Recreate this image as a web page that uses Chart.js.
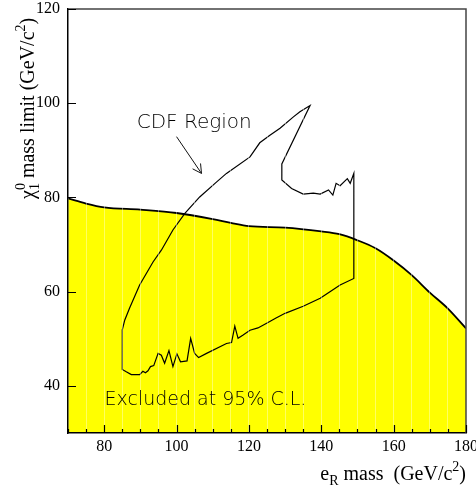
<!DOCTYPE html>
<html lang="en">
<head>
    <meta charset="UTF-8">
    <title>Excluded region - neutralino mass limit vs selectron mass</title>
    <script src="https://cdn.jsdelivr.net/npm/chart.js@4.4.0/dist/chart.umd.min.js"></script>
    <style>
        * { box-sizing: border-box; margin: 0; padding: 0; }
        body { background: #fff; width: 476px; height: 488px; overflow: hidden; }
        .chart-container { position: relative; width: 476px; height: 488px; }
    </style>
</head>
<body>
    <div class="chart-container">
        <canvas id="limit-chart" width="476" height="488"></canvas>
    </div>

    <script>
        // Excluded region boundary (yellow area)
        const excludedMass  = [70, 75, 80, 90, 100, 110, 115, 120, 130, 140, 145, 150, 155, 160, 165, 170, 175, 180];
        const excludedLimit = [79.8, 78.7, 77.9, 77.4, 76.7, 75.4, 74.6, 73.9, 73.6, 72.8, 72.2, 70.9, 69.2, 66.6, 63.5, 59.8, 56.4, 52.2];

        // CDF region contour (closed loop)
        const cdfMass = [85.0, 85.0, 86.1, 87.5, 89.8, 90.7, 91.4, 92.1, 92.8, 93.7, 94.9, 95.8, 96.7, 97.9, 99.0,
            100.1, 101.1, 102.9, 103.9, 105.0, 106.1, 108.3, 113.8, 115.2, 116.1, 117.0, 118.4, 120.3, 122.5,
            124.9, 127.5, 130.0, 135.0, 139.7, 142.4, 145.2, 149.0, 149.0, 148.0, 147.2, 145.2, 144.1, 143.2,
            142.0, 139.7, 137.8, 135.0, 131.8, 129.1, 129.1, 136.9, 134.1, 132.3, 128.6, 125.8, 123.0, 120.3,
            113.8, 111.1, 106.4, 102.3, 99.0, 95.8, 93.5, 89.8, 87.0, 85.7, 85.0];
        const cdfLimit = [51.9, 43.5, 43.0, 42.4, 42.4, 43.1, 42.8, 43.2, 44.1, 44.3, 46.9, 46.5, 44.8, 47.5, 44.1,
            46.8, 45.1, 45.3, 50.1, 46.9, 46.0, 46.9, 49.0, 49.2, 52.7, 50.1, 50.8, 51.8, 52.3,
            53.3, 54.4, 55.4, 56.9, 58.6, 60.0, 61.4, 62.8, 85.1, 83.0, 84.0, 82.5, 83.0, 80.5,
            81.6, 80.7, 80.9, 80.7, 81.9, 83.7, 87.1, 99.5, 98.2, 97.1, 94.7, 93.2, 91.6, 88.6,
            85.1, 83.3, 80.1, 76.6, 73.1, 68.8, 66.3, 61.4, 56.5, 54.0, 51.9];

        // Axis ticks
        const xTickValues  = [70, 75, 80, 85, 90, 95, 100, 105, 110, 115, 120, 125, 130, 135, 140, 145, 150, 155, 160, 165, 170, 175, 180];
        const xLabelValues = [80, 100, 120, 140, 160, 180];
        const yTickValues  = [40, 60, 80, 100, 120];

        // Annotations (data coordinates)
        const cdfLabel = { text: 'CDF Region', x: 89.0, y: 94.7 };
        const cdfArrow = { from: [100.0, 92.9], to: [106.9, 85.1] };
        const excludedLabel = { text: 'Excluded at 95% C.L.', x: 80.1, y: 35.9 };

        const serif = '"Liberation Serif", "Times New Roman", serif';
        const sans = '"DejaVu Sans", sans-serif';

        // Draw text made of pieces with different sizes / offsets (sub- and superscripts)
        function richWidth(ctx, parts) {
            let w = 0;
            parts.forEach(p => {
                ctx.font = `${p.size}px ${serif}`;
                if (!p.stack) w += ctx.measureText(p.text).width;
            });
            return w;
        }

        function drawRich(ctx, parts, x, y) {
            let cx = x;
            parts.forEach(p => {
                ctx.font = `${p.size}px ${serif}`;
                ctx.fillText(p.text, cx, y + (p.dy || 0));
                if (!p.stack) cx += ctx.measureText(p.text).width;
            });
        }

        const yTitle = [
            { text: 'χ', size: 20 },
            { text: '1', size: 14, dy: 5, stack: true },
            { text: '0', size: 14, dy: -9 },
            { text: ' mass limit (GeV/c', size: 20 },
            { text: '2', size: 14, dy: -9 },
            { text: ')', size: 20 }
        ];
        const xTitle = [
            { text: 'e', size: 20 },
            { text: 'R', size: 14, dy: 5 },
            { text: ' mass  (GeV/c', size: 20 },
            { text: '2', size: 14, dy: -9 },
            { text: ')', size: 20 }
        ];

        const decorPlugin = {
            id: 'decor',
            afterDraw(chart) {
                const { ctx, chartArea: a, scales: { x, y } } = chart;
                ctx.save();

                // top / right frame
                ctx.strokeStyle = '#444';
                ctx.lineWidth = 1.5;
                ctx.beginPath();
                ctx.moveTo(a.left, a.top);
                ctx.lineTo(a.right, a.top);
                ctx.lineTo(a.right, a.bottom);
                ctx.stroke();

                // inward tick marks
                ctx.strokeStyle = '#000';
                ctx.lineWidth = 1.2;
                ctx.beginPath();
                xTickValues.forEach(v => {
                    const px = Math.round(x.getPixelForValue(v)) + 0.5;
                    const len = xLabelValues.includes(v) ? 8 : 4;
                    ctx.moveTo(px, a.bottom);
                    ctx.lineTo(px, a.bottom - len);
                });
                yTickValues.forEach(v => {
                    const py = Math.round(y.getPixelForValue(v)) + 0.5;
                    ctx.moveTo(a.left, py);
                    ctx.lineTo(a.left + 8, py);
                });
                ctx.stroke();

                // axis titles
                ctx.fillStyle = '#000';
                ctx.textBaseline = 'alphabetic';
                ctx.textAlign = 'left';
                ctx.save();
                ctx.translate(34, a.top + 190);
                ctx.rotate(-Math.PI / 2);
                drawRich(ctx, yTitle, 0, 0);
                ctx.restore();
                const xw = richWidth(ctx, xTitle);
                drawRich(ctx, xTitle, a.right - xw, 480);

                // annotations
                ctx.fillStyle = '#000';
                ctx.font = `200 20px ${sans}`;
                ctx.fillText(cdfLabel.text, x.getPixelForValue(cdfLabel.x), y.getPixelForValue(cdfLabel.y));
                ctx.font = `200 19px ${sans}`;
                ctx.fillText(excludedLabel.text, x.getPixelForValue(excludedLabel.x), y.getPixelForValue(excludedLabel.y));

                // arrow
                const x0 = x.getPixelForValue(cdfArrow.from[0]), y0 = y.getPixelForValue(cdfArrow.from[1]);
                const x1 = x.getPixelForValue(cdfArrow.to[0]), y1 = y.getPixelForValue(cdfArrow.to[1]);
                const ang = Math.atan2(y1 - y0, x1 - x0);
                ctx.strokeStyle = '#111';
                ctx.lineWidth = 1;
                ctx.beginPath();
                ctx.moveTo(x0, y0);
                ctx.lineTo(x1, y1);
                [0.5, -0.5].forEach(d => {
                    ctx.moveTo(x1, y1);
                    ctx.lineTo(x1 - 10 * Math.cos(ang + d), y1 - 10 * Math.sin(ang + d));
                });
                ctx.stroke();

                ctx.restore();
            }
        };

        new Chart(document.getElementById('limit-chart'), {
            type: 'line',
            data: {
                datasets: [
                    {
                        label: 'CDF Region',
                        data: cdfMass.map((m, i) => ({ x: m, y: cdfLimit[i] })),
                        borderColor: '#000',
                        borderWidth: 1.2,
                        pointRadius: 0,
                        tension: 0,
                        fill: false,
                        order: 0
                    },
                    {
                        label: 'Excluded at 95% C.L.',
                        data: excludedMass.map((m, i) => ({ x: m, y: excludedLimit[i] })),
                        borderColor: '#000',
                        borderWidth: 1.8,
                        backgroundColor: '#ffff00',
                        pointRadius: 0,
                        cubicInterpolationMode: 'monotone',
                        fill: 'start',
                        order: 1
                    }
                ]
            },
            options: {
                responsive: false,
                animation: false,
                devicePixelRatio: 1,
                layout: { padding: { top: 9, right: 10, left: 0, bottom: 0 } },
                plugins: {
                    legend: { display: false },
                    tooltip: { enabled: false }
                },
                scales: {
                    x: {
                        type: 'linear',
                        min: 70,
                        max: 180,
                        afterBuildTicks: s => { s.ticks = xTickValues.map(v => ({ value: v })); },
                        afterFit: s => { s.height = 55; s.paddingLeft = 0; s.paddingRight = 0; },
                        ticks: {
                            autoSkip: false,
                            maxRotation: 0,
                            padding: 4,
                            color: '#000',
                            font: { family: serif, size: 16 },
                            callback: v => xLabelValues.includes(v) ? String(v) : ''
                        },
                        grid: { display: true, drawTicks: false, color: 'rgba(255,255,255,0.38)', lineWidth: 1, z: 1 },
                        border: { display: true, color: '#000', width: 1.5, z: 2 }
                    },
                    y: {
                        type: 'linear',
                        min: 30,
                        max: 120,
                        afterBuildTicks: s => { s.ticks = yTickValues.map(v => ({ value: v })); },
                        afterFit: s => { s.width = 68; s.paddingTop = 0; s.paddingBottom = 0; },
                        ticks: {
                            padding: 8,
                            color: '#000',
                            font: { family: serif, size: 16 }
                        },
                        grid: { display: false, drawTicks: false },
                        border: { display: true, color: '#000', width: 1.5, z: 2 }
                    }
                }
            },
            plugins: [decorPlugin]
        });
    </script>
</body>
</html>
